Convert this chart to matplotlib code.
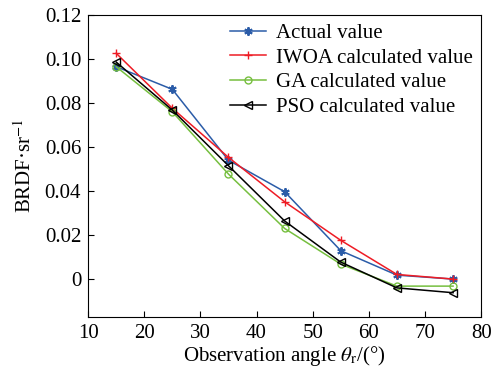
import numpy as np
import matplotlib.pyplot as plt
from matplotlib.ticker import FuncFormatter

plt.rcParams['font.family'] = ['Liberation Serif', 'DejaVu Serif']
plt.rcParams['mathtext.fontset'] = 'stix'

# Data
angles = [15, 25, 35, 45, 55, 65, 75]
actual = [0.0965, 0.0862, 0.0540, 0.0397, 0.0129, 0.0018, 0.0000]
iwoa = [0.1026, 0.0776, 0.0553, 0.0351, 0.0176, 0.0021, 0.0000]
ga = [0.0965, 0.0760, 0.0477, 0.0230, 0.0068, -0.0032, -0.0032]
pso = [0.0986, 0.0768, 0.0515, 0.0264, 0.0077, -0.0040, -0.0062]

fig = plt.figure(figsize=(4.95, 3.74), dpi=100)
ax = fig.add_axes([0.178, 0.152, 0.794, 0.808])

ax.plot(angles, actual, color='#2b5ca8', marker=(6, 2, 0), markersize=6, mew=1.4, lw=1.1, label='Actual value')
ax.plot(angles, iwoa, color='#ee1c25', marker='+', markersize=6, mew=1.0, lw=1.1, label='IWOA calculated value')
ax.plot(angles, ga, color='#76bf3f', marker='o', markersize=5, mfc='none', lw=1.1, label='GA calculated value')
ax.plot(angles, pso, color='black', marker='<', markersize=5.5, mfc='none', lw=1.1, label='PSO calculated value')

ax.set_xlim(10, 80)
ax.set_ylim(-0.0173, 0.12)
ax.set_xticks(np.arange(10, 81, 10))
ax.set_yticks(np.arange(0, 0.121, 0.02))
ax.yaxis.set_major_formatter(FuncFormatter(lambda v, p: '0' if abs(v) < 1e-9 else f'{v:.2f}'))
ax.tick_params(direction='in', labelsize=15, length=4, pad=5)

ax.set_xlabel(r'Observation angle $\theta_\mathrm{r}$/(°)', fontsize=15, labelpad=1)
ax.set_ylabel(r'BRDF·sr$^{-1}$', fontsize=15, labelpad=6)

ax.legend(loc='upper right', frameon=False, fontsize=15, handlelength=1.7,
          handletextpad=0.5, labelspacing=0.25, borderaxespad=0.1,
          borderpad=0.3)

fig.savefig('out.png', dpi=100)
